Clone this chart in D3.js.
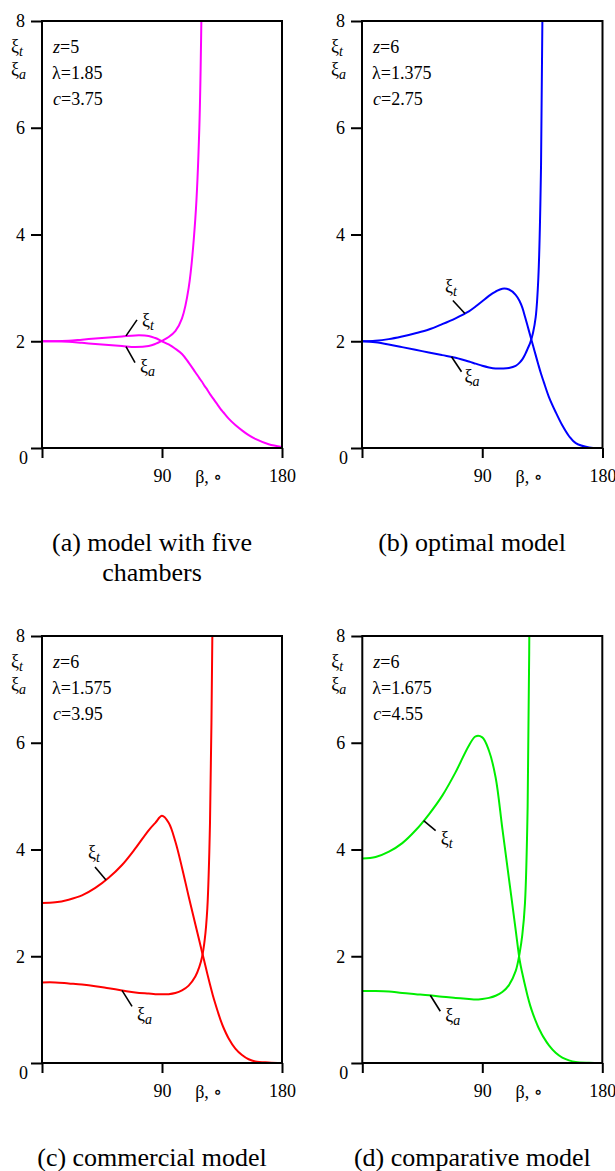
<!DOCTYPE html>
<html><head><meta charset="utf-8">
<script src="https://cdn.jsdelivr.net/npm/d3@7"></script>
<style>
body{margin:0;background:#fff;}
svg text{font-family:"Liberation Serif","Tinos","Times New Roman","DejaVu Serif",serif;fill:#000;}
</style>
<title>xi_t, xi_a vs beta</title>
</head><body>
<script>
var width = 615, height = 1171;
var FONT = "'Liberation Serif', Tinos, 'Times New Roman', 'DejaVu Serif', serif";

// beta grid (deg) shared by every curve
var beta = [0,10,20,30,40,50,60,70,80,85,90,95,100,105,110,115,118,120,122,124,126,128,130,132,134,136,140,145,150,155,160,170,180];

// (a) model with five chambers
var xiT_a = [2.0,2.0,2.01,2.03,2.05,2.07,2.09,2.11,2.10,2.06,2.0,1.94,1.86,1.76,1.60,1.42,1.31,1.24,1.16,1.09,1.01,0.94,0.87,0.80,0.73,0.67,0.55,0.43,0.33,0.24,0.17,0.07,0.02];
var xiA_a = [2.0,2.0,1.99,1.97,1.95,1.93,1.91,1.89,1.91,1.95,2.01,2.08,2.19,2.43,3.0,4.3,6.0,9.0,null,null,null,null,null,null,null,null,null,null,null,null,null,null,null];
// (b) optimal model
var xiT_b = [2.0,2.01,2.04,2.09,2.15,2.22,2.32,2.43,2.56,2.65,2.75,2.85,2.93,2.985,2.97,2.87,2.75,2.63,2.46,2.28,2.10,1.92,1.74,1.56,1.39,1.24,0.95,0.67,0.42,0.22,0.09,0.01,0.0];
var xiA_b = [2.0,1.98,1.94,1.89,1.84,1.79,1.74,1.69,1.62,1.58,1.54,1.51,1.49,1.49,1.50,1.54,1.60,1.66,1.75,1.86,1.98,2.16,2.45,3.2,5.3,12,null,null,null,null,null,null,null];
// (c) commercial model
var xiT_c = [3.0,3.01,3.06,3.14,3.28,3.47,3.71,4.02,4.36,4.50,4.63,4.50,4.15,3.66,3.12,2.60,2.29,2.08,1.88,1.67,1.47,1.28,1.11,0.95,0.80,0.67,0.46,0.27,0.15,0.07,0.03,0.01,0.0];
var xiA_c = [1.51,1.51,1.49,1.47,1.44,1.40,1.36,1.32,1.30,1.29,1.29,1.29,1.31,1.36,1.45,1.62,1.80,1.98,2.30,2.9,4.5,8.6,null,null,null,null,null,null,null,null,null,null,null];
// (d) comparative model
var xiT_d = [3.83,3.86,3.96,4.12,4.36,4.66,5.01,5.45,5.95,6.12,6.10,5.85,5.35,4.40,3.45,2.50,1.93,1.68,1.46,1.25,1.07,0.92,0.79,0.67,0.57,0.48,0.33,0.19,0.10,0.05,0.02,0.005,0.0];
var xiA_d = [1.35,1.35,1.34,1.31,1.29,1.27,1.24,1.22,1.20,1.19,1.20,1.22,1.26,1.33,1.46,1.72,2.06,2.40,2.99,4.8,11,null,null,null,null,null,null,null,null,null,null,null,null];

var yTicks = [0,2,4,6,8];
var xTicks = [0,90,180];

var zVals = ["5","6","6","6"];
var lambdaVals = ["1.85","1.375","1.575","1.675"];
var cVals = ["3.75","2.75","3.95","4.55"];
var captions = [["(a) model with five","chambers"],["(b) optimal model"],["(c) commercial model"],["(d) comparative model"]];
var colors = ["#ff00ff","#0000ff","#ff0000","#00ee00"];

// label anchors on the curves: [beta, value] for xi_t and xi_a
var annT = [[63,2.10],[77,2.52],[48,3.43],[46,4.54]];
var annA = [[63,1.90],[67,1.71],[60,1.36],[51,1.27]];

var panels = [
  {x0:42, x1:282, yT:21, yB:448, t:xiT_a, a:xiA_a, offT:[11,-16], labT:[5,6], offA:[9,16], labA:[5,9]},
  {x0:362, x1:602.5, yT:21, yB:448, t:xiT_b, a:xiA_b, offT:[-12,-13], labT:[-8,-8], offA:[10,15], labA:[3,10]},
  {x0:42, x1:282, yT:636, yB:1063, t:xiT_c, a:xiA_c, offT:[-11,-13], labT:[-7,-9], offA:[10,16], labA:[5,14]},
  {x0:362.3, x1:602.3, yT:636, yB:1063, t:xiT_d, a:xiA_d, offT:[12,10], labT:[5,13], offA:[10,16], labA:[5,10]}
];

var svg = d3.select("body").append("svg")
    .attr("width", width)
    .attr("height", height)
    .style("font-family", FONT);

svg.append("rect").attr("width", width).attr("height", height).attr("fill", "#fff");

function txt(sel, size){
  return sel.append("text").attr("font-size", size).style("font-family", FONT);
}

panels.forEach(function(p, i){
  var x = d3.scaleLinear().domain([0,180]).range([p.x0, p.x1]);
  var y = d3.scaleLinear().domain([0,8]).range([p.yB, p.yT]);
  var g = svg.append("g");

  g.append("clipPath").attr("id", "clip" + i)
    .append("rect")
    .attr("x", p.x0).attr("y", p.yT)
    .attr("width", p.x1 - p.x0).attr("height", p.yB - p.yT);

  // curves
  var line = d3.line()
    .defined(function(d){ return d[1] != null; })
    .x(function(d){ return x(d[0]); })
    .y(function(d){ return y(d[1]); })
    .curve(d3.curveCatmullRom.alpha(0.5));
  [p.t, p.a].forEach(function(vals){
    g.append("path")
      .datum(beta.map(function(b, k){ return [b, vals[k]]; }))
      .attr("clip-path", "url(#clip" + i + ")")
      .attr("fill", "none")
      .attr("stroke", colors[i])
      .attr("stroke-width", 2)
      .attr("d", line);
  });

  // frame
  g.append("rect")
    .attr("x", p.x0).attr("y", p.yT)
    .attr("width", p.x1 - p.x0).attr("height", p.yB - p.yT)
    .attr("fill", "none").attr("stroke", "#000").attr("stroke-width", 2);

  // y axis
  var ya = g.append("g")
    .attr("transform", "translate(" + p.x0 + ",0)")
    .call(d3.axisLeft(y).tickValues(yTicks).tickSize(11).tickPadding(6));
  ya.attr("font-family", null).attr("font-size", null);
  ya.select(".domain").remove();
  ya.selectAll("line").attr("stroke-width", 2);
  ya.selectAll("text").attr("font-size", 18).style("font-family", FONT);
  ya.selectAll("text").filter(function(d){ return d === 0; })
    .attr("x", -14).attr("dy", "0.85em");

  // x axis
  var xa = g.append("g")
    .attr("transform", "translate(0," + p.yB + ")")
    .call(d3.axisBottom(x).tickValues(xTicks).tickSize(10).tickPadding(11)
      .tickFormat(function(d){ return d === 0 ? "" : d; }));
  xa.attr("font-family", null).attr("font-size", null);
  xa.select(".domain").remove();
  xa.selectAll("line").attr("stroke-width", 2);
  xa.selectAll("text").attr("font-size", 18).style("font-family", FONT);

  txt(g, 18)
    .attr("x", x(125)).attr("y", p.yB + 35)
    .attr("text-anchor", "middle")
    .text("β, ∘");

  // y label
  [["t", 31], ["a", 54]].forEach(function(s){
    var t = txt(g, 18).attr("x", p.x0 - 31).attr("y", p.yT + s[1]);
    t.append("tspan").text("ξ");
    t.append("tspan").attr("dy", 4).attr("font-size", 14).attr("font-style", "italic").text(s[0]);
  });

  // parameters
  var pz = txt(g, 18).attr("x", p.x0 + 11).attr("y", p.yT + 32);
  pz.append("tspan").attr("font-style", "italic").text("z");
  pz.append("tspan").text("=" + zVals[i]);
  txt(g, 18).attr("x", p.x0 + 10).attr("y", p.yT + 58)
    .text("λ=" + lambdaVals[i]);
  var pc = txt(g, 18).attr("x", p.x0 + 11).attr("y", p.yT + 84);
  pc.append("tspan").attr("font-style", "italic").text("c");
  pc.append("tspan").text("=" + cVals[i]);

  // curve labels with leader lines
  [[annT[i], p.offT, p.labT, "t"], [annA[i], p.offA, p.labA, "a"]].forEach(function(an){
    var ax = x(an[0][0]), ay = y(an[0][1]);
    var ex = ax + an[1][0], ey = ay + an[1][1];
    g.append("line")
      .attr("x1", ax).attr("y1", ay).attr("x2", ex).attr("y2", ey)
      .attr("stroke", "#000").attr("stroke-width", 1.6);
    var lt = txt(g, 18).attr("x", ex + an[2][0]).attr("y", ey + an[2][1]);
    lt.append("tspan").text("ξ");
    lt.append("tspan").attr("dy", 4).attr("font-size", 14).attr("font-style", "italic").text(an[3]);
  });

  // caption
  captions[i].forEach(function(c, k){
    txt(g, 26)
      .attr("x", p.x0 + 110).attr("y", p.yB + 103 + k * 30)
      .attr("text-anchor", "middle")
      .text(c);
  });
});
</script>
</body></html>
